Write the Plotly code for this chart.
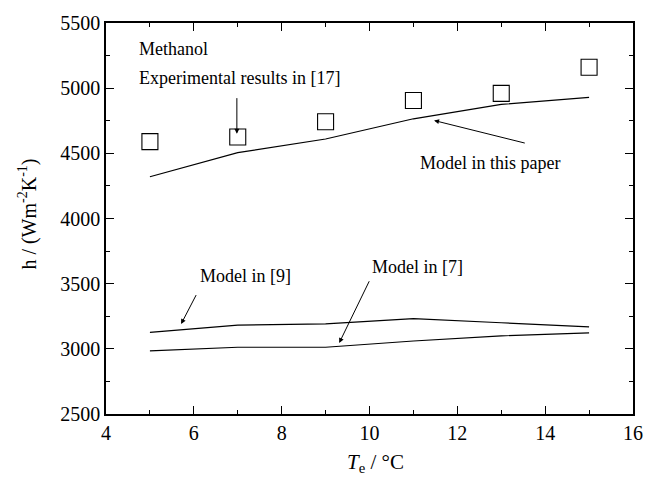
import plotly.graph_objects as go

# Evaporation temperature (°C)
te = [5, 7, 9, 11, 13, 15]

# Heat transfer coefficient h (W m^-2 K^-1)
h_experiment = [4590, 4625, 4742, 4905, 4960, 5160]
h_model_this = [4320, 4505, 4610, 4765, 4875, 4930]
h_model_9 = [3127, 3182, 3192, 3232, 3200, 3168]
h_model_7 = [2985, 3012, 3012, 3060, 3100, 3122]

FONT = "Liberation Serif, Times New Roman, serif"

fig = go.Figure()

line_style = dict(color="black", width=1.2)
for ys, name in [(h_model_this, "Model in this paper"),
                 (h_model_9, "Model in [9]"),
                 (h_model_7, "Model in [7]")]:
    fig.add_trace(go.Scatter(x=te, y=ys, mode="lines", line=line_style,
                             name=name, showlegend=False))

fig.add_trace(go.Scatter(
    x=te, y=h_experiment, mode="markers", name="Experimental results in [17]",
    marker=dict(symbol="square-open", size=16, color="black",
                line=dict(width=1.1, color="black")),
    showlegend=False))

# Text labels
ann_font = dict(family=FONT, size=18, color="black")
fig.add_annotation(x=4.71, y=5303, text="Methanol", showarrow=False,
                   xanchor="left", font=ann_font)
fig.add_annotation(x=4.71, y=5076, text="Experimental results in [17]",
                   showarrow=False, xanchor="left", font=ann_font)
fig.add_annotation(x=11.1, y=4424, text="Model in this paper",
                   showarrow=False, xanchor="left", font=ann_font)
fig.add_annotation(x=6.09, y=3561, text="Model in [9]", showarrow=False,
                   xanchor="left", font=ann_font)
fig.add_annotation(x=10.01, y=3629, text="Model in [7]", showarrow=False,
                   xanchor="left", font=ann_font)

# Arrows pointing at the curves
arrows = [
    ((6.98, 4935), (6.98, 4650)),
    ((13.57, 4576), (11.47, 4752)),
    ((6.07, 3424), (5.71, 3190)),
    ((10.01, 3530), (9.31, 3045)),
]
for (x0, y0), (x1, y1) in arrows:
    fig.add_annotation(x=x1, y=y1, ax=x0, ay=y0, axref="x", ayref="y",
                       text="", showarrow=True, arrowhead=2, arrowsize=1,
                       arrowwidth=1, arrowcolor="black")

# Axis titles
fig.add_annotation(xref="paper", yref="paper", x=0.512, y=-0.125,
                   text="<i>T</i><sub>e</sub> / °C", showarrow=False,
                   xanchor="center", yanchor="middle",
                   font=dict(family=FONT, size=21, color="black"))
fig.add_annotation(xref="paper", yref="paper", x=-0.148, y=0.51,
                   text="h / (Wm<sup>-2</sup>K<sup>-1</sup>)", showarrow=False,
                   textangle=-90, xanchor="center", yanchor="middle",
                   font=dict(family=FONT, size=20, color="black"))

axis_common = dict(
    showline=True, linecolor="black", linewidth=1.5, mirror="allticks",
    ticks="inside", ticklen=8, tickwidth=1.3, tickcolor="black",
    showgrid=False, zeroline=False,
    tickfont=dict(family=FONT, size=20, color="black"),
)

fig.update_xaxes(
    range=[4, 16], dtick=2, tick0=4,
    minor=dict(ticks="inside", ticklen=4, dtick=1, tickcolor="black", tickwidth=1.2),
    **axis_common)
fig.update_yaxes(
    range=[2500, 5500], dtick=500, tick0=2500,
    minor=dict(ticks="inside", ticklen=4, dtick=250, tickcolor="black", tickwidth=1.2),
    **axis_common)

fig.update_layout(
    width=659, height=486,
    margin=dict(l=106, r=26, t=18, b=72),
    paper_bgcolor="white", plot_bgcolor="white",
    showlegend=False,
)

fig.write_html("out.html")
